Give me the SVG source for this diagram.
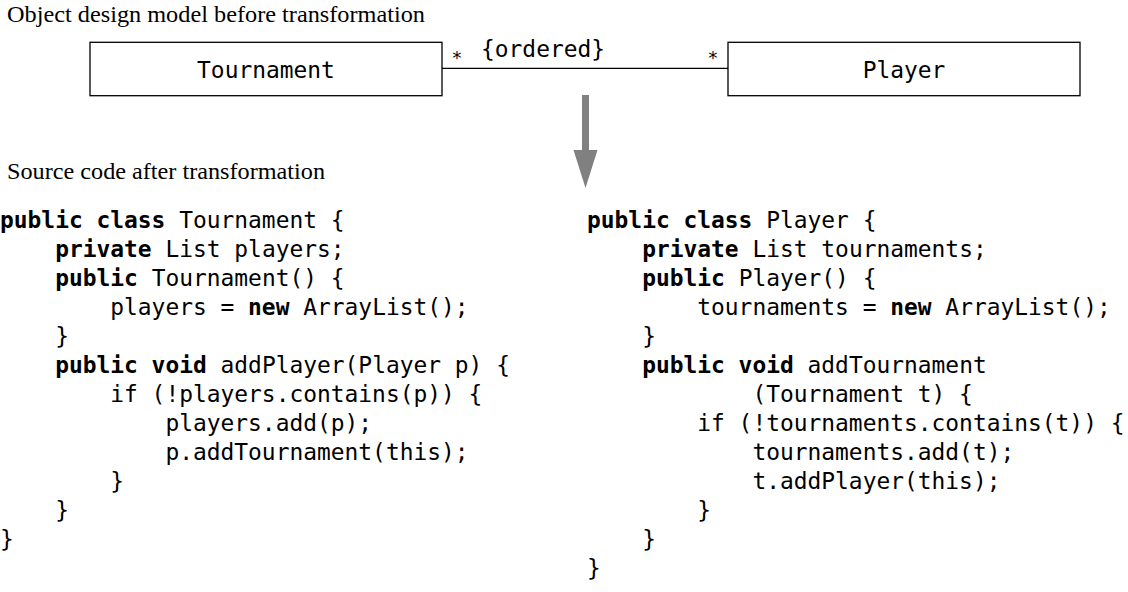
<svg xmlns="http://www.w3.org/2000/svg" width="1128" height="592" viewBox="0 0 1128 592">
<style>
.title{font-family:"Liberation Serif","Times New Roman",serif;font-size:23px;fill:#000}
.code{font-family:"DejaVu Sans Mono","Liberation Mono",monospace;font-size:22.9px;fill:#000;white-space:pre}
.kw{font-weight:bold}
.box{fill:#fff;stroke:#000;stroke-width:1.3}
.assoc{stroke:#000;stroke-width:1.3;fill:none}
.star{font-family:"DejaVu Sans Mono","Liberation Mono",monospace;font-size:18px;fill:#000}
</style>
<rect width="1128" height="592" fill="#fff"/>
<text class="title" x="7" y="22" textLength="418" lengthAdjust="spacingAndGlyphs">Object design model before transformation</text>
<text class="title" x="7" y="179" textLength="318" lengthAdjust="spacingAndGlyphs">Source code after transformation</text>
<g id="connectors">
<line class="assoc" x1="442" y1="68.3" x2="728" y2="68.3"/>
<text class="star" x="457" y="64" text-anchor="middle">*</text>
<text class="star" x="713" y="64" text-anchor="middle">*</text>
<text class="code" x="481" y="57">{ordered}</text>
</g>
<g id="node-tournament">
<rect class="box" x="90" y="42.3" width="352" height="53.4"/>
<text class="code" x="266" y="78" text-anchor="middle">Tournament</text>
</g>
<g id="node-player">
<rect class="box" x="728" y="42.3" width="352" height="53.4"/>
<text class="code" x="904" y="78" text-anchor="middle">Player</text>
</g>
<g id="transform-arrow" fill="#808080">
<rect x="582" y="95" width="7" height="57"/>
<polygon points="573.5,150 597.5,150 585.5,188"/>
</g>
<g id="code-tournament" class="code">
<text class="code" x="0" y="228"><tspan class="kw">public class</tspan> Tournament {</text>
<text class="code" x="0" y="257">    <tspan class="kw">private</tspan> List players;</text>
<text class="code" x="0" y="286">    <tspan class="kw">public</tspan> Tournament() {</text>
<text class="code" x="0" y="315">        players = <tspan class="kw">new</tspan> ArrayList();</text>
<text class="code" x="0" y="344">    }</text>
<text class="code" x="0" y="373">    <tspan class="kw">public void</tspan> addPlayer(Player p) {</text>
<text class="code" x="0" y="402">        if (!players.contains(p)) {</text>
<text class="code" x="0" y="431">            players.add(p);</text>
<text class="code" x="0" y="460">            p.addTournament(this);</text>
<text class="code" x="0" y="489">        }</text>
<text class="code" x="0" y="518">    }</text>
<text class="code" x="0" y="547">}</text>
</g>
<g id="code-player" class="code">
<text class="code" x="587" y="228"><tspan class="kw">public class</tspan> Player {</text>
<text class="code" x="587" y="257">    <tspan class="kw">private</tspan> List tournaments;</text>
<text class="code" x="587" y="286">    <tspan class="kw">public</tspan> Player() {</text>
<text class="code" x="587" y="315">        tournaments = <tspan class="kw">new</tspan> ArrayList();</text>
<text class="code" x="587" y="344">    }</text>
<text class="code" x="587" y="373">    <tspan class="kw">public void</tspan> addTournament</text>
<text class="code" x="587" y="402">            (Tournament t) {</text>
<text class="code" x="587" y="431">        if (!tournaments.contains(t)) {</text>
<text class="code" x="587" y="460">            tournaments.add(t);</text>
<text class="code" x="587" y="489">            t.addPlayer(this);</text>
<text class="code" x="587" y="518">        }</text>
<text class="code" x="587" y="547">    }</text>
<text class="code" x="587" y="576">}</text>
</g>
</svg>
